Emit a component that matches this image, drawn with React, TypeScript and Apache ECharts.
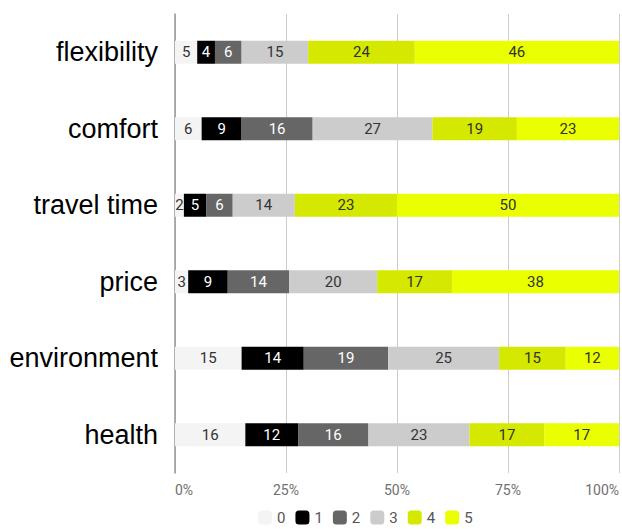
import React, { useEffect, useRef } from "react";
import * as echarts from "echarts";

const categories = ["flexibility", "comfort", "travel time", "price", "environment", "health"];
const seriesNames = ["0", "1", "2", "3", "4", "5"];
const s0 = [5, 6, 2, 3, 15, 16];
const s1 = [4, 9, 5, 9, 14, 12];
const s2 = [6, 16, 6, 14, 19, 16];
const s3 = [15, 27, 14, 20, 25, 23];
const s4 = [24, 19, 23, 17, 15, 17];
const s5 = [46, 23, 50, 38, 12, 17];
const xTicks = [0, 25, 50, 75, 100];

const colors = ["#f4f4f4", "#000000", "#666666", "#cccccc", "#d4e800", "#eaff00"];
const labelColors = ["#333333", "#ffffff", "#ffffff", "#333333", "#333333", "#333333"];

export default function App() {
  const ref = useRef<HTMLDivElement>(null);
  useEffect(() => {
    if (!ref.current) return;
    const chart = echarts.init(ref.current, undefined, { renderer: "svg" });
    const all = [s0, s1, s2, s3, s4, s5];
    const totals = categories.map((_, i) => all.reduce((a, s) => a + s[i], 0));
    chart.setOption({
      animation: false,
      grid: { left: 175, right: 2, top: 14, bottom: 56, containLabel: false },
      xAxis: {
        type: "value",
        min: xTicks[0],
        max: xTicks[xTicks.length - 1],
        interval: 25,
        axisLine: { show: false },
        axisTick: { show: false },
        splitLine: { lineStyle: { color: "#cccccc", width: 1 } },
        axisLabel: {
          formatter: "{value}%",
          color: "#707070",
          fontSize: 14,
          fontFamily: "Roboto",
          margin: 10,
          alignMinLabel: "left",
          alignMaxLabel: "right",
        },
      },
      yAxis: {
        type: "category",
        data: categories,
        inverse: true,
        axisLine: { show: true, lineStyle: { color: "#999999", width: 1.5 } },
        axisTick: { show: false },
        axisLabel: {
          color: "#000000",
          fontSize: 27,
          fontFamily: "Liberation Sans, Arial, sans-serif",
          margin: 17,
        },
      },
      legend: {
        data: seriesNames,
        bottom: 4,
        left: 258,
        padding: 0,
        itemWidth: 14,
        itemHeight: 14,
        itemGap: 10,
        icon: "roundRect",
        textStyle: { color: "#555555", fontSize: 15, fontFamily: "Roboto" },
      },
      series: all.map((s, k) => ({
        name: seriesNames[k],
        type: "bar",
        stack: "total",
        barWidth: 23,
        itemStyle: { color: colors[k] },
        label: {
          show: true,
          position: "inside",
          color: labelColors[k],
          fontSize: 15,
          fontFamily: "Roboto",
          formatter: (p: any) => String(s[p.dataIndex]),
        },
        data: s.map((v, i) => (v / totals[i]) * 100),
      })),
    });
    return () => chart.dispose();
  }, []);
  return (
    <div
      ref={ref}
      style={{ position: "absolute", left: 0, top: 0, width: 622, height: 529 }}
    />
  );
}
